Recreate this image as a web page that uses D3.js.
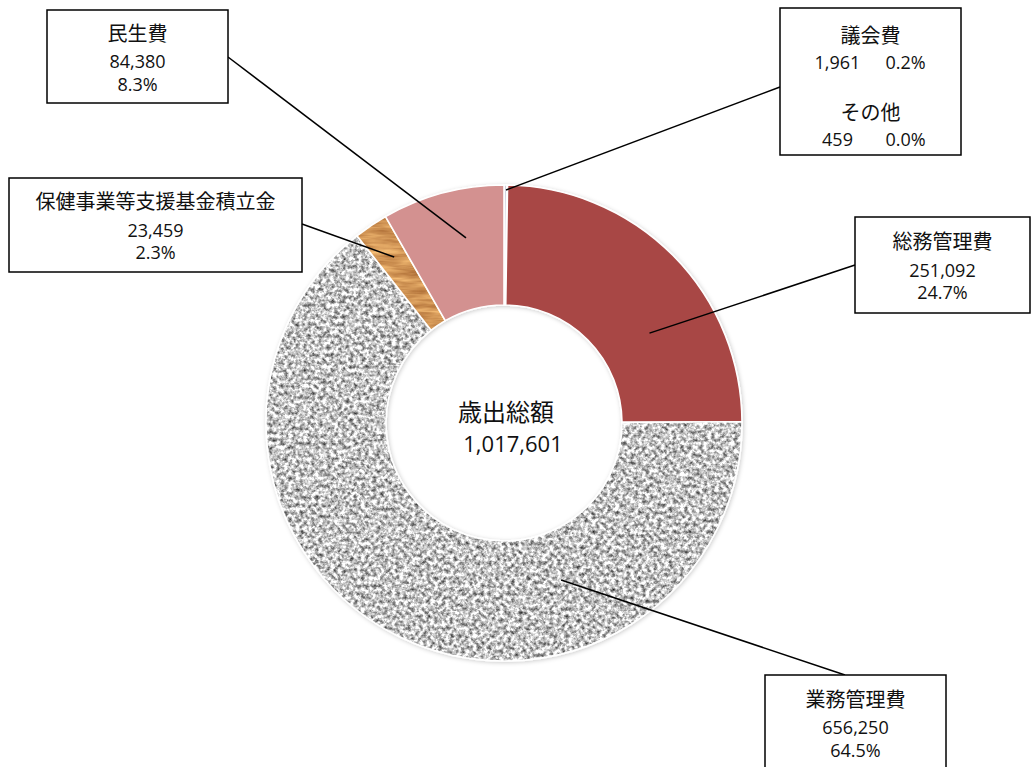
<!DOCTYPE html>
<html><head><meta charset="utf-8">
<script src="https://cdn.jsdelivr.net/npm/d3@7"></script>
<style>
html,body{margin:0;padding:0;background:#fff;}
svg{display:block;}
</style></head>
<body>
<svg id="chart" width="1034" height="767"></svg>
<script>
// ---- data ----
const categories = ["議会費","その他","総務管理費","業務管理費","保健事業等支援基金積立金","民生費"];
const values = [1961, 459, 251092, 656250, 23459, 84380];
const centerTitle = "歳出総額";

// ---- styles ----
const fills = ["#cfd3de", "#e4e4e4", "#a84745", "url(#granite)", "url(#wood)", "#d39190"];

// ---- layout ----
const W = 1034, H = 767;
const cx = 504, cy = 423, rOuter = 238, rInner = 118;
const labelLayout = [
  {items:[0,1], box:{x:780,y:8,w:181,h:147}, from:{x:780,y:87}, angle:0.5, r:233},
  {items:[5], box:{x:47,y:10,w:181,h:93}, from:{x:228,y:57}, angle:348.4, r:189},
  {items:[4], box:{x:9,y:178,w:293,h:94}, from:{x:302,y:224}, angle:326.5, r:199},
  {items:[2], box:{x:855,y:217,w:175,h:96}, from:{x:855,y:265}, angle:58.3, r:171},
  {items:[3], box:{x:765,y:675,w:181,h:95}, from:{x:845,y:675}, angle:160, r:167}
];

const svg = d3.select("#chart");
const defs = svg.append("defs");

// granite texture
const fg = defs.append("filter").attr("id","graniteF").attr("x",0).attr("y",0).attr("width",1).attr("height",1)
  .attr("color-interpolation-filters","sRGB");
fg.append("feTurbulence").attr("type","fractalNoise").attr("baseFrequency","0.26").attr("numOctaves",4).attr("seed",7).attr("result","n");
fg.append("feColorMatrix").attr("in","n").attr("type","matrix")
  .attr("values","1.4 0 0 0 0.07  1.4 0 0 0 0.07  1.4 0 0 0 0.07  0 0 0 0 1");
const pg = defs.append("pattern").attr("id","granite").attr("patternUnits","userSpaceOnUse")
  .attr("x",0).attr("y",0).attr("width",W).attr("height",H);
pg.append("rect").attr("width",W).attr("height",H).attr("fill","#999").attr("filter","url(#graniteF)");

// wood texture
const fw = defs.append("filter").attr("id","woodF").attr("x",0).attr("y",0).attr("width",1).attr("height",1)
  .attr("color-interpolation-filters","sRGB");
fw.append("feTurbulence").attr("type","fractalNoise").attr("baseFrequency","0.03 0.22").attr("numOctaves",3).attr("seed",3).attr("result","n");
fw.append("feColorMatrix").attr("in","n").attr("type","matrix")
  .attr("values","0.45 0 0 0 0.6  0.5 0 0 0 0.34  0.4 0 0 0 0.14  0 0 0 0 1");
const pw = defs.append("pattern").attr("id","wood").attr("patternUnits","userSpaceOnUse")
  .attr("x",0).attr("y",0).attr("width",W).attr("height",H);
pw.append("rect").attr("width",W).attr("height",H).attr("fill","#c8884a").attr("filter","url(#woodF)");

// soft shadow
const sh = defs.append("filter").attr("id","shadow").attr("x","-10%").attr("y","-10%").attr("width","120%").attr("height","120%");
sh.append("feDropShadow").attr("dx",1).attr("dy",1).attr("stdDeviation",2).attr("flood-color","#000").attr("flood-opacity",0.2);

const data = categories.map((c,i)=>({name:c, value:values[i], i}));
const total = d3.sum(values);
const pct = d3.format(".1%");
const num = d3.format(",");

const pie = d3.pie().value(d=>d.value).sort(null);
const arc = d3.arc().innerRadius(rInner).outerRadius(rOuter);
const arcs = pie(data);

const g = svg.append("g").attr("transform",`translate(${cx},${cy})`);
g.append("g").attr("filter","url(#shadow)")
 .selectAll("path").data(arcs).join("path")
  .attr("d",arc)
  .attr("fill",d=>fills[d.data.i])
  .attr("stroke","#fff").attr("stroke-width",1.6);

pg.attr("x",-cx).attr("y",-cy);
pw.attr("x",-cx).attr("y",-cy);

// center text
const fontCJK = "'Noto Sans CJK JP', sans-serif";
const fontNum = "'Open Sans', 'Noto Sans CJK JP', sans-serif";
g.append("text").attr("x",2).attr("y",-2).attr("text-anchor","middle")
  .attr("font-family",fontCJK).attr("font-size",24).attr("fill","#111").text(centerTitle);
g.append("text").attr("x",9).attr("y",29).attr("text-anchor","middle")
  .attr("font-family",fontNum).attr("font-size",22).attr("fill","#111").text(num(total));

// leader lines
const polar = (angDeg, r) => {
  const a = angDeg*Math.PI/180;
  return [cx + r*Math.sin(a), cy - r*Math.cos(a)];
};
svg.append("g").selectAll("line").data(labelLayout).join("line")
  .attr("x1",d=>d.from.x).attr("y1",d=>d.from.y)
  .attr("x2",d=>polar(d.angle,d.r)[0]).attr("y2",d=>polar(d.angle,d.r)[1])
  .attr("stroke","#000").attr("stroke-width",1.5);

// label boxes
const lg = svg.append("g");
const NS = 18;
labelLayout.forEach(L=>{
  const b = L.box;
  lg.append("rect").attr("x",b.x).attr("y",b.y).attr("width",b.w).attr("height",b.h)
    .attr("fill","#fff").attr("stroke","#000").attr("stroke-width",1.5);
  const mx = b.x + b.w/2;
  if (L.items.length === 1) {
    const d = data[L.items[0]];
    const my = b.y + b.h/2;
    lg.append("text").attr("x",mx).attr("y",my-16).attr("text-anchor","middle")
      .attr("font-family",fontCJK).attr("font-size",20).attr("fill","#111").text(d.name);
    lg.append("text").attr("x",mx).attr("y",my+11.5).attr("text-anchor","middle")
      .attr("font-family",fontNum).attr("font-size",NS).attr("fill","#111").text(num(d.value));
    lg.append("text").attr("x",mx).attr("y",my+34).attr("text-anchor","middle")
      .attr("font-family",fontNum).attr("font-size",NS).attr("fill","#111").text(pct(d.value/total));
  } else {
    L.items.forEach((k,j)=>{
      const d = data[k];
      const ty = b.y + 27 + j*77;
      lg.append("text").attr("x",mx).attr("y",ty+7.5).attr("text-anchor","middle")
        .attr("font-family",fontCJK).attr("font-size",20).attr("fill","#111").text(d.name);
      lg.append("text").attr("x",mx-33).attr("y",ty+34).attr("text-anchor","middle")
        .attr("font-family",fontNum).attr("font-size",NS).attr("fill","#111").text(num(d.value));
      lg.append("text").attr("x",mx+35).attr("y",ty+34).attr("text-anchor","middle")
        .attr("font-family",fontNum).attr("font-size",NS).attr("fill","#111").text(pct(d.value/total));
    });
  }
});
</script>
</body></html>
